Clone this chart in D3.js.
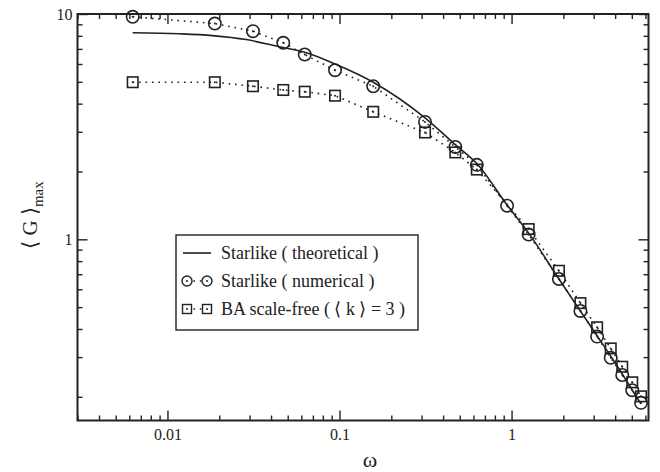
<!DOCTYPE html>
<html><head><meta charset="utf-8">
<script src="https://cdn.jsdelivr.net/npm/d3@7"></script>
<style>
html,body{margin:0;padding:0;background:#fff;}
svg{display:block;}
</style></head>
<body>
<svg id="chart" width="660" height="472"></svg>
<script>
// ---- data ----
const omegaStar = [0.00628,0.01885,0.0314,0.0471,0.0628,0.0942,0.157,0.314,0.471,0.628,0.942,1.257,1.885,2.513,3.142,3.770,4.398,5.027,5.655];
const starNumerical = [9.72,9.07,8.39,7.45,6.61,5.63,4.78,3.32,2.57,2.14,1.41,1.05,0.667,0.481,0.370,0.298,0.250,0.214,0.188];
const omegaBA = [0.00628,0.01885,0.0314,0.0471,0.0628,0.0942,0.157,0.314,0.471,0.628,1.257,1.885,2.513,3.142,3.770,4.398,5.027,5.655];
const baScaleFree = [4.98,4.98,4.78,4.60,4.52,4.34,3.68,2.98,2.43,2.04,1.11,0.725,0.521,0.407,0.328,0.272,0.232,0.201];
const omegaTheory = [0.00628,0.0117,0.0183,0.0287,0.0448,0.0628,0.0942,0.157,0.314,0.471,0.628,0.942,1.257,1.885,2.513,3.142,3.770,4.398,5.027,5.655];
const starTheory = [8.25,8.17,8.02,7.70,7.15,6.76,6.0,4.98,3.46,2.63,2.17,1.42,1.065,0.667,0.480,0.373,0.303,0.253,0.214,0.186];
const xMajorTicks = [0.01,0.1,1];
const xTickLabels = ["0.01","0.1","1"];
const yMajorTicks = [1,10];
const yTickLabels = ["1","10"];
const legendLabels = ["Starlike ( theoretical )","Starlike ( numerical )","BA scale-free ( \u27E8 k \u27E9 = 3 )"];

// ---- layout ----
const FONT = '"Liberation Serif","Times New Roman",Times,serif';
const L = 77.5, R = 648.5, T = 14, B = 420.5;
const xDomain = [0.003, 6.25], yDomain = [0.157, 10];
const x = d3.scaleLog().domain(xDomain).range([L, R]);
const y = d3.scaleLog().domain(yDomain).range([B, T]);

const svg = d3.select("#chart");
const ink = "#222";

function minorTicks(domain){
  const out=[];
  for(let e=-4;e<=2;e++){
    for(let m=2;m<=9;m++){
      const v=m*Math.pow(10,e);
      if(v>=domain[0] && v<=domain[1]) out.push(v);
    }
  }
  return out;
}
const xMinor = minorTicks(xDomain), yMinor = minorTicks(yDomain);

const majorLen = 10, minorLen = 5;
const fmtX = d => xTickLabels[xMajorTicks.indexOf(d)];
const fmtY = d => yTickLabels[yMajorTicks.indexOf(d)];

function styleAxis(g){
  g.attr("font-family", FONT);
  g.select(".domain").remove();
  g.selectAll(".tick line").attr("stroke", ink).attr("stroke-width", 1.4);
  g.selectAll(".tick text").style("font-family",FONT).style("font-size","16px").attr("fill", ink);
}
// bottom
svg.append("g").attr("transform",`translate(0,${B})`)
  .call(d3.axisBottom(x).tickValues(xMajorTicks).tickFormat(fmtX).tickSizeInner(-majorLen).tickSizeOuter(0).tickPadding(8))
  .call(styleAxis);
svg.append("g").attr("transform",`translate(0,${B})`)
  .call(d3.axisBottom(x).tickValues(xMinor).tickFormat("").tickSizeInner(-minorLen).tickSizeOuter(0))
  .call(styleAxis);
// top
svg.append("g").attr("transform",`translate(0,${T})`)
  .call(d3.axisTop(x).tickValues(xMajorTicks).tickFormat("").tickSizeInner(-majorLen).tickSizeOuter(0))
  .call(styleAxis);
svg.append("g").attr("transform",`translate(0,${T})`)
  .call(d3.axisTop(x).tickValues(xMinor).tickFormat("").tickSizeInner(-minorLen).tickSizeOuter(0))
  .call(styleAxis);
// left
svg.append("g").attr("transform",`translate(${L},0)`)
  .call(d3.axisLeft(y).tickValues(yMajorTicks).tickFormat(fmtY).tickSizeInner(-majorLen).tickSizeOuter(0).tickPadding(5))
  .call(styleAxis);
svg.append("g").attr("transform",`translate(${L},0)`)
  .call(d3.axisLeft(y).tickValues(yMinor).tickFormat("").tickSizeInner(-minorLen).tickSizeOuter(0))
  .call(styleAxis);
// right
svg.append("g").attr("transform",`translate(${R},0)`)
  .call(d3.axisRight(y).tickValues(yMajorTicks).tickFormat("").tickSizeInner(-majorLen).tickSizeOuter(0))
  .call(styleAxis);
svg.append("g").attr("transform",`translate(${R},0)`)
  .call(d3.axisRight(y).tickValues(yMinor).tickFormat("").tickSizeInner(-minorLen).tickSizeOuter(0))
  .call(styleAxis);

// frame
svg.append("rect").attr("x",L).attr("y",T).attr("width",R-L).attr("height",B-T)
  .attr("fill","none").attr("stroke",ink).attr("stroke-width",2);

// axis titles
svg.append("text").attr("x",370).attr("y",467).attr("text-anchor","middle")
  .style("font-family",FONT).style("font-size","22px").attr("fill",ink).text("\u03C9");
const yl = svg.append("text").attr("transform",`translate(37,215) rotate(-90)`)
  .attr("text-anchor","middle").style("font-family",FONT).style("font-size","21px").attr("fill",ink);
yl.append("tspan").text("\u27E8 G \u27E9");
yl.append("tspan").attr("dy",6).style("font-size","15px").text("max");

// series
const plot = svg.append("g");
const theoryLine = d3.line().x(d=>x(d[0])).y(d=>y(d[1])).curve(d3.curveMonotoneX);
const dotLine = d3.line().x(d=>x(d[0])).y(d=>y(d[1]));

const starPts = omegaStar.map((w,i)=>[w,starNumerical[i]]);
const baPts = omegaBA.map((w,i)=>[w,baScaleFree[i]]);
const thPts = omegaTheory.map((w,i)=>[w,starTheory[i]]);

const dash = "1.6,4.8";
plot.append("path").attr("d",dotLine(baPts)).attr("fill","none").attr("stroke",ink).attr("stroke-width",1.6).attr("stroke-dasharray",dash);
plot.append("path").attr("d",dotLine(starPts)).attr("fill","none").attr("stroke",ink).attr("stroke-width",1.6).attr("stroke-dasharray",dash);
plot.append("path").attr("d",theoryLine(thPts)).attr("fill","none").attr("stroke",ink).attr("stroke-width",1.6);

const sq = 10.5, cr = 6.2;
plot.selectAll(".sq").data(baPts).enter().append("rect")
  .attr("x",d=>x(d[0])-sq/2).attr("y",d=>y(d[1])-sq/2).attr("width",sq).attr("height",sq)
  .attr("fill","none").attr("stroke",ink).attr("stroke-width",1.6);
plot.selectAll(".sqd").data(baPts).enter().append("circle")
  .attr("cx",d=>x(d[0])).attr("cy",d=>y(d[1])).attr("r",1).attr("fill",ink);
plot.selectAll(".ci").data(starPts).enter().append("circle")
  .attr("cx",d=>x(d[0])).attr("cy",d=>y(d[1])).attr("r",cr)
  .attr("fill","none").attr("stroke",ink).attr("stroke-width",1.6);
plot.selectAll(".cid").data(starPts).enter().append("circle")
  .attr("cx",d=>x(d[0])).attr("cy",d=>y(d[1])).attr("r",1).attr("fill",ink);

// legend
const lg = svg.append("g");
lg.append("rect").attr("x",176).attr("y",235).attr("width",242).attr("height",95)
  .attr("fill","#fff").attr("stroke",ink).attr("stroke-width",1.4);
const rows = [253, 281, 309];
const sx0 = 187, sx1 = 207, tx = 221;
lg.append("line").attr("x1",sx0-4).attr("x2",sx1+4).attr("y1",rows[0]).attr("y2",rows[0]).attr("stroke",ink).attr("stroke-width",1.6);
lg.append("line").attr("x1",sx0).attr("x2",sx1).attr("y1",rows[1]).attr("y2",rows[1]).attr("stroke",ink).attr("stroke-width",1.6).attr("stroke-dasharray",dash);
[sx0,sx1].forEach(cx=>{
  lg.append("circle").attr("cx",cx).attr("cy",rows[1]).attr("r",5).attr("fill","#fff").attr("stroke",ink).attr("stroke-width",1.4);
  lg.append("circle").attr("cx",cx).attr("cy",rows[1]).attr("r",1).attr("fill",ink);
});
lg.append("line").attr("x1",sx0).attr("x2",sx1).attr("y1",rows[2]).attr("y2",rows[2]).attr("stroke",ink).attr("stroke-width",1.6).attr("stroke-dasharray",dash);
[sx0,sx1].forEach(cx=>{
  lg.append("rect").attr("x",cx-4.5).attr("y",rows[2]-4.5).attr("width",9).attr("height",9).attr("fill","#fff").attr("stroke",ink).attr("stroke-width",1.4);
  lg.append("circle").attr("cx",cx).attr("cy",rows[2]).attr("r",1).attr("fill",ink);
});
legendLabels.forEach((t,i)=>{
  lg.append("text").attr("x",tx).attr("y",rows[i]).attr("dy","0.35em")
    .style("font-family",FONT).style("font-size","18px").attr("fill",ink).text(t);
});
</script>
</body></html>
